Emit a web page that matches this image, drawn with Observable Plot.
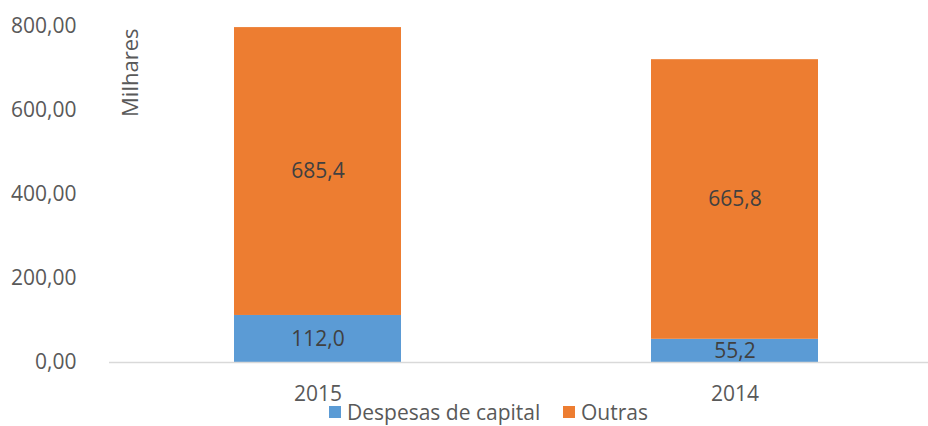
<!DOCTYPE html>
<html>
<head>
<meta charset="utf-8">
<script src="https://cdn.jsdelivr.net/npm/d3@7"></script>
<script src="https://cdn.jsdelivr.net/npm/@observablehq/plot@0.6"></script>
<style>
  html, body { margin: 0; padding: 0; background: #fff; }
  body { position: relative; width: 928px; height: 426px; overflow: hidden; font-family: "Open Sans", sans-serif; }
  #legend { position: absolute; left: 0; top: 400px; width: 928px; height: 24px; font-size: 21px; color: #595959; }
  .item { position: absolute; top: 0; display: flex; align-items: center; height: 24px; }
  .sw { width: 12px; height: 12px; margin-right: 6px; }
</style>
</head>
<body>
<div id="chart"></div>
<div id="legend"></div>
<script>
const years = ["2015", "2014"];
const series = ["Despesas de capital", "Outras"];
const despesasCapital = [112.0, 55.2];
const outras = [685.4, 665.8];
const yTicks = [0, 200, 400, 600, 800];
const colors = ["#5B9BD5", "#ED7D31"];

const data = [];
years.forEach((yr, i) => {
  data.push({year: yr, series: series[0], value: despesasCapital[i]});
  data.push({year: yr, series: series[1], value: outras[i]});
});

const comma = (f) => (v) => d3.format(f)(v).replace(".", ",");

const plot = Plot.plot({
  width: 928,
  height: 410,
  marginLeft: 109,
  marginRight: 0,
  marginTop: 26,
  marginBottom: 48,
  style: {fontFamily: "Open Sans, sans-serif", fontSize: "21px", color: "#595959", background: "transparent", overflow: "visible"},
  x: {domain: years, range: [109, 943], paddingInner: 0.6, paddingOuter: 0.3, label: null},
  y: {domain: [0, 800], label: null},
  color: {domain: series, range: colors},
  marks: [
    Plot.barY(data, {x: "year", y: "value", fill: "series", order: series}),
    Plot.ruleY([0], {stroke: "#d9d9d9", strokeWidth: 1.5}),
    Plot.text(data, Plot.stackY({x: "year", y: "value", z: "series", order: series,
      text: d => comma(".1f")(d.value), fill: "#404040", fontSize: 21})),
    Plot.axisY({ticks: yTicks, tickFormat: comma(".2f"), tickSize: 0, tickPadding: 33, label: null, fill: "#595959", fontSize: 21}),
    Plot.axisX({tickSize: 0, tickPadding: 24, label: null, fill: "#595959", fontSize: 21}),
    Plot.text(["Milhares"], {frameAnchor: "top-left", rotate: -90, textAnchor: "end", lineAnchor: "middle", dx: 21, dy: 2, fill: "#595959", fontSize: 22})
  ]
});
document.getElementById("chart").appendChild(plot);

const legend = document.getElementById("legend");
const lx = [329, 563];
series.forEach((s, i) => {
  const it = document.createElement("div");
  it.className = "item";
  it.style.left = lx[i] + "px";
  it.innerHTML = `<div class="sw" style="background:${colors[i]}"></div><span>${s}</span>`;
  legend.appendChild(it);
});
</script>
</body>
</html>
